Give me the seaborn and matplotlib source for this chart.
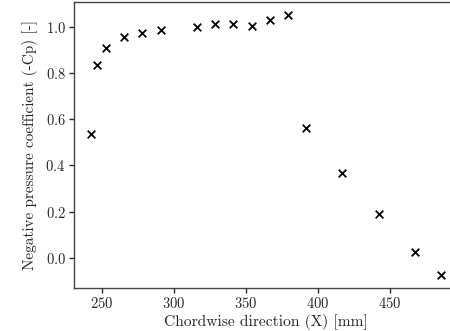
import numpy as np
import pandas as pd
import seaborn as sns
import matplotlib.pyplot as plt

# chordwise tap positions [mm] and measured -Cp
x_mm = [242.6, 246.8, 253.0, 265.5, 278.0, 291.0, 316.0, 328.7, 341.2,
        354.2, 366.7, 378.9, 391.9, 416.9, 442.1, 467.6, 485.2]
neg_cp = [0.535, 0.832, 0.909, 0.953, 0.974, 0.987, 0.999, 1.012, 1.012,
          1.004, 1.030, 1.052, 0.563, 0.367, 0.190, 0.024, -0.072]

df = pd.DataFrame({"x": x_mm, "cp": neg_cp})

sns.set_theme(style="ticks")
plt.rcParams['font.family'] = ['cmr10', 'DejaVu Serif']
plt.rcParams['mathtext.fontset'] = 'cm'
plt.rcParams['axes.unicode_minus'] = False
plt.rcParams['axes.formatter.use_mathtext'] = True

fig = plt.figure(figsize=(4.5, 3.31), dpi=100)
ax = fig.add_axes([74 / 450, 1 - 287.7 / 331, (458 - 74) / 450, (287.7 - 1.5) / 331])

sns.scatterplot(data=df, x="x", y="cp", marker="x", color="black", s=30,
                linewidth=1.3, ax=ax)

ax.set_xlabel("Chordwise direction (X) [mm]", fontsize=11.2, labelpad=2)
ax.set_ylabel("Negative pressure coefficient (-Cp) [-]", fontsize=11, labelpad=5)
ax.tick_params(labelsize=10.5, length=3.5, width=1, pad=2.5)
for s in ax.spines.values():
    s.set_linewidth(1.0)
    s.set_color("#444444")
ax.set_xticks([250, 300, 350, 400, 450])
ax.set_yticks([0.0, 0.2, 0.4, 0.6, 0.8, 1.0])

fig.savefig("out.png", dpi=100)
